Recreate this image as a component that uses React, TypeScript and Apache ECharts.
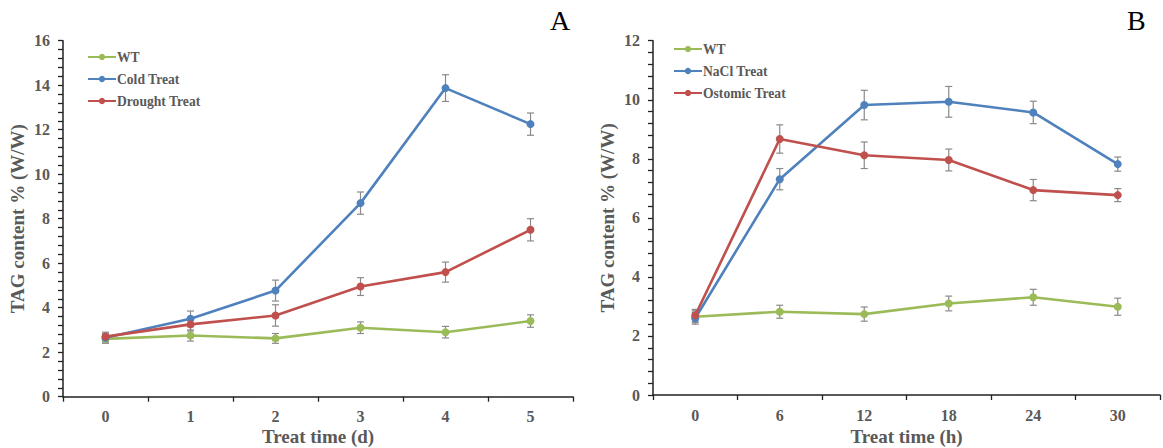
import React, { useEffect, useRef } from "react";
import * as echarts from "echarts";

const daysA = ["0", "1", "2", "3", "4", "5"];
const wtA = [2.6, 2.75, 2.62, 3.1, 2.9, 3.4];
const wtAErr = [0.2, 0.25, 0.22, 0.26, 0.26, 0.28];
const coldA = [2.65, 3.5, 4.77, 8.7, 13.87, 12.25];
const coldAErr = [0.2, 0.35, 0.47, 0.5, 0.6, 0.5];
const droughtA = [2.7, 3.25, 3.65, 4.95, 5.6, 7.5];
const droughtAErr = [0.2, 0.3, 0.48, 0.4, 0.45, 0.5];

const hoursB = ["0", "6", "12", "18", "24", "30"];
const wtB = [2.65, 2.82, 2.74, 3.1, 3.31, 2.99];
const wtBErr = [0.2, 0.22, 0.24, 0.25, 0.27, 0.29];
const naclB = [2.6, 7.31, 9.82, 9.93, 9.57, 7.82];
const naclBErr = [0.2, 0.36, 0.5, 0.52, 0.38, 0.24];
const osmB = [2.7, 8.67, 8.12, 7.96, 6.94, 6.77];
const osmBErr = [0.2, 0.48, 0.45, 0.37, 0.36, 0.22];

const GREEN = "#9BBB59";
const BLUE = "#4F81BD";
const RED = "#C0504D";
const FONT = "'Liberation Serif', 'Times New Roman', serif";
const TXT = "#595959";

function errData(vals: number[], errs: number[]) {
  return vals.map((v, i) => [i, v - errs[i], v + errs[i]]);
}

function errSeries(vals: number[], errs: number[], axis: number) {
  return {
    type: "custom",
    xAxisIndex: axis,
    yAxisIndex: axis,
    z: 1,
    silent: true,
    encode: { x: 0, y: [1, 2] },
    data: errData(vals, errs),
    renderItem: (params: any, api: any) => {
      const x = api.value(0);
      const lo = api.coord([x, api.value(1)]);
      const hi = api.coord([x, api.value(2)]);
      const w = 3.5;
      const style = { stroke: "#8a8a8a", lineWidth: 1.2 };
      return {
        type: "group",
        children: [
          { type: "line", shape: { x1: lo[0], y1: lo[1], x2: hi[0], y2: hi[1] }, style },
          { type: "line", shape: { x1: lo[0] - w, y1: lo[1], x2: lo[0] + w, y2: lo[1] }, style },
          { type: "line", shape: { x1: hi[0] - w, y1: hi[1], x2: hi[0] + w, y2: hi[1] }, style },
        ],
      };
    },
  };
}

function lineSeries(name: string, vals: number[], color: string, axis: number) {
  return {
    type: "line",
    name,
    xAxisIndex: axis,
    yAxisIndex: axis,
    z: 3,
    data: vals,
    symbol: "circle",
    symbolSize: 8,
    lineStyle: { color, width: 2.6 },
    itemStyle: { color },
  };
}

function xAxis(gridIndex: number, cats: string[], name: string, gap: number) {
  return {
    type: "category",
    gridIndex,
    data: cats,
    boundaryGap: true,
    name,
    nameLocation: "middle",
    nameGap: gap,
    nameMoveOverlap: false,
    nameTextStyle: { fontFamily: FONT, fontWeight: "bold", fontSize: 19, color: TXT },
    axisLine: { lineStyle: { color: "#222", width: 1.5 } },
    axisTick: { show: true, inside: false, length: 5, alignWithLabel: false, lineStyle: { color: "#222", width: 1.3 } },
    axisLabel: { margin: 12, fontFamily: FONT, fontWeight: "bold", fontSize: 16, color: TXT },
    splitLine: { show: false },
  };
}

function yAxis(gridIndex: number, max: number) {
  return {
    type: "value",
    gridIndex,
    min: 0,
    max,
    interval: 2,
    name: "TAG content % (W/W)",
    nameLocation: "middle",
    nameGap: 36,
    nameTextStyle: { fontFamily: FONT, fontWeight: "bold", fontSize: 19, color: TXT },
    axisLine: { show: true, lineStyle: { color: "#222", width: 1.5 } },
    axisTick: { show: true, inside: false, length: 5, lineStyle: { color: "#222", width: 1.3 } },
    minorTick: { show: true, splitNumber: 5, length: 5, lineStyle: { color: "#222", width: 1.3 } },
    axisLabel: { margin: 13, fontFamily: FONT, fontWeight: "bold", fontSize: 16, color: TXT },
    splitLine: { show: false },
    minorSplitLine: { show: false },
  };
}

const legendLabel = (n: string) => n.replace(/ [AB]$/, "");

function legend(names: string[], left: number, top: number) {
  return {
    data: names,
    orient: "vertical",
    left,
    top,
    itemWidth: 28,
    itemHeight: 8,
    itemGap: 8,
    selectedMode: false,
    formatter: legendLabel,
    textStyle: { fontFamily: FONT, fontWeight: "bold", fontSize: 13.6, color: TXT, padding: [0, 0, 0, -4] },
  };
}

export default function App() {
  const ref = useRef<HTMLDivElement>(null);
  useEffect(() => {
    if (!ref.current) return;
    const chart = echarts.init(ref.current, undefined, { renderer: "svg" });
    chart.setOption({
      animation: false,
      backgroundColor: "#ffffff",
      grid: [
        { left: 63, top: 40.7, width: 510, height: 356, outerBoundsMode: "none", containLabel: false },
        { left: 653, top: 40.7, width: 507, height: 354.3, outerBoundsMode: "none", containLabel: false },
      ],
      xAxis: [xAxis(0, daysA, "Treat time (d)", 30), xAxis(1, hoursB, "Treat time (h)", 31.5)],
      yAxis: [yAxis(0, 16), yAxis(1, 12)],
      legend: [
        legend(["WT A", "Cold Treat", "Drought Treat"], 82, 45),
        legend(["WT B", "NaCl Treat", "Ostomic Treat"], 668, 37),
      ],
      graphic: [
        { type: "text", left: 550, top: 6, style: { text: "A", font: `28px ${FONT}`, fill: "#000" } },
        { type: "text", left: 1127, top: 6, style: { text: "B", font: `28px ${FONT}`, fill: "#000" } },
      ],
      series: [
        errSeries(wtA, wtAErr, 0),
        errSeries(coldA, coldAErr, 0),
        errSeries(droughtA, droughtAErr, 0),
        lineSeries("WT A", wtA, GREEN, 0),
        lineSeries("Cold Treat", coldA, BLUE, 0),
        lineSeries("Drought Treat", droughtA, RED, 0),
        errSeries(wtB, wtBErr, 1),
        errSeries(naclB, naclBErr, 1),
        errSeries(osmB, osmBErr, 1),
        lineSeries("WT B", wtB, GREEN, 1),
        lineSeries("NaCl Treat", naclB, BLUE, 1),
        lineSeries("Ostomic Treat", osmB, RED, 1),
      ],
    });
    return () => chart.dispose();
  }, []);
  return (
    <div
      ref={ref}
      style={{ position: "absolute", left: 0, top: 0, width: 1163, height: 448 }}
    />
  );
}
